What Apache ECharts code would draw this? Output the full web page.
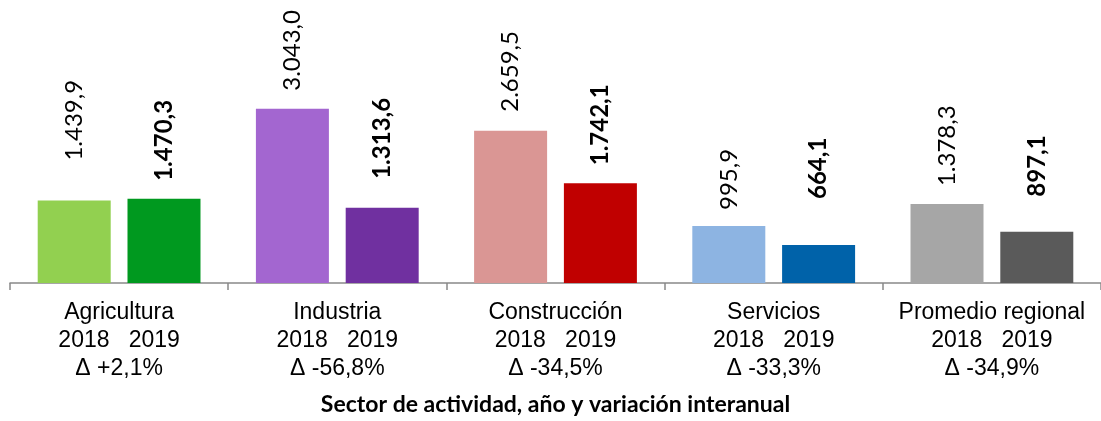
<!DOCTYPE html>
<html>
<head>
<meta charset="utf-8">
<script src="https://cdn.jsdelivr.net/npm/echarts@6/dist/echarts.min.js"></script>
<style>
  html, body { margin: 0; padding: 0; background: #fff; }
  #chart { width: 1101px; height: 421px; }
</style>
</head>
<body>
<div id="chart"></div>
<script>
const sectors = ["Agricultura", "Industria", "Construcción", "Servicios", "Promedio regional"];
const years = ["2018", "2019"];
const values2018 = [1439.9, 3043.0, 2659.5, 995.9, 1378.3];
const values2019 = [1470.3, 1313.6, 1742.1, 664.1, 897.1];
const variation = ["+2,1%", "-56,8%", "-34,5%", "-33,3%", "-34,9%"];

// colores por sector
const colors2018 = ["#92d050", "#a366d0", "#da9694", "#8db4e2", "#a6a6a6"];
const colors2019 = ["#00991f", "#7030a0", "#c00000", "#0062a9", "#5a5a5a"];
// separación de etiquetas (algunas movidas a mano en el original)
const labelGap2018 = [40, 18, 19, 16, 18];
const labelGap2019 = [18, 29, 18, 46, 35];

const fmt = (v) =>
  v.toLocaleString("de-DE", { minimumFractionDigits: 1, maximumFractionDigits: 1 });

function buildData(values, colors, gaps, bold) {
  return values.map((v, i) => ({
    value: v,
    itemStyle: { color: colors[i] },
    label: {
      show: true,
      position: "top",
      distance: gaps[i],
      rotate: 90,
      align: "left",
      verticalAlign: "middle",
      fontFamily: "Lato",
      fontSize: 24,
      fontWeight: bold ? "bold" : "normal",
      color: "#000",
      formatter: (p) => fmt(p.value),
    },
  }));
}

const chart = echarts.init(document.getElementById("chart"));

const option = {
  animation: false,
  grid: { left: 10, width: 1100, top: 54, bottom: 132 },
  xAxis: {
    type: "category",
    data: sectors,
    name: "Sector de actividad, año y variación interanual",
    nameLocation: "middle",
    nameGap: 110,
    nameTextStyle: {
      fontFamily: "Lato",
      fontWeight: "bold",
      fontSize: 23,
      color: "#000",
    },
    axisLine: { lineStyle: { color: "#898989", width: 1.5 } },
    axisTick: { show: true, length: 7, lineStyle: { color: "#898989", width: 1.5 } },
    axisLabel: {
      interval: 0,
      margin: 16,
      fontFamily: "Liberation Sans",
      fontSize: 23,
      lineHeight: 28,
      color: "#000",
      formatter: (name, i) =>
        name + "\n" + years.join("   ") + "\n\u0394 " + variation[i],
    },
  },
  yAxis: {
    type: "value",
    min: 0,
    max: 4000,
    show: false,
  },
  series: [
    {
      name: years[0],
      type: "bar",
      barWidth: 73,
      barGap: "23%",
      data: buildData(values2018, colors2018, labelGap2018, false),
    },
    {
      name: years[1],
      type: "bar",
      barWidth: 73,
      data: buildData(values2019, colors2019, labelGap2019, true),
    },
  ],
};

chart.setOption(option);
</script>
</body>
</html>
